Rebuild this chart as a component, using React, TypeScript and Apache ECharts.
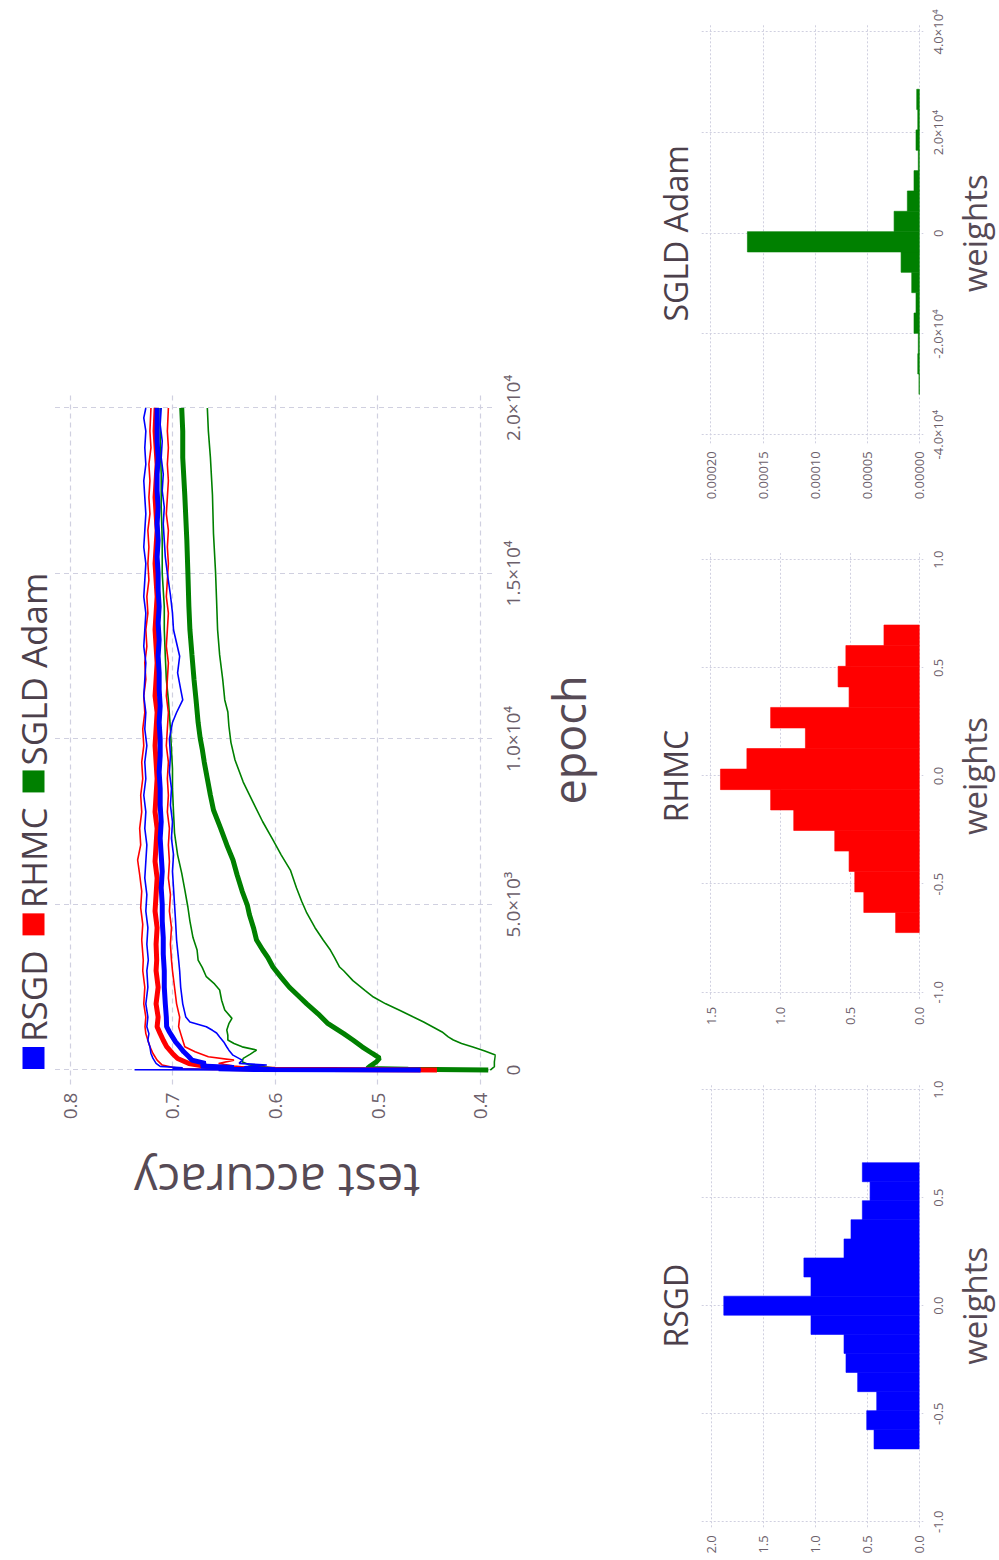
import React, { useEffect, useRef } from "react";
import * as echarts from "echarts";

// ---------------- data ----------------
const METHODS = ["RSGD", "RHMC", "SGLD Adam"];
const EPOCH_TICKS = [0, 5000, 10000, 15000, 20000];
const ACC_TICKS = [0.4, 0.5, 0.6, 0.7, 0.8];
const WEIGHT_TICKS = [-1, -0.5, 0, 0.5, 1];
const RSGD_DENSITY_TICKS = [0, 0.5, 1, 1.5, 2];
const RHMC_DENSITY_TICKS = [0, 0.5, 1, 1.5];
const SGLD_WEIGHT_TICKS = [-40000, -20000, 0, 20000, 40000];
const SGLD_DENSITY_TICKS = [0, 0.00005, 0.0001, 0.00015, 0.0002];

// test accuracy curves [epoch, accuracy]
const RSGD_MEAN = [[0,0.458],[15,0.62],[40,0.655],[80,0.64],[120,0.672],[200,0.668],[300,0.681],[400,0.684],[550,0.689],[705,0.693],[850,0.697],[1000,0.7],[1150,0.703],[1309,0.7057],[1600,0.706],[2000,0.707],[2500,0.708],[3000,0.708],[3500,0.709],[4000,0.709],[4500,0.71],[5000,0.71],[5500,0.711],[6000,0.71],[6500,0.711],[7000,0.712],[7500,0.711],[8000,0.712],[8500,0.712],[9000,0.713],[9500,0.712],[10000,0.712],[10500,0.713],[11000,0.712],[11500,0.713],[12000,0.713],[12500,0.714],[13000,0.713],[13500,0.714],[14000,0.713],[14500,0.714],[15000,0.714],[15500,0.715],[16000,0.714],[16500,0.715],[17000,0.714],[17500,0.715],[18000,0.715],[18500,0.714],[19000,0.715],[19500,0.715],[20000,0.715]];
const RSGD_UPPER = [[0,0.458],[8,0.737],[20,0.66],[40,0.7],[70,0.69],[110,0.712],[200,0.716],[350,0.719],[500,0.721],[705,0.722],[900,0.724],[1100,0.723],[1309,0.725],[1600,0.724],[2000,0.726],[2500,0.724],[3000,0.725],[3323,0.7236],[3800,0.725],[4300,0.724],[4800,0.726],[5300,0.725],[5800,0.727],[6300,0.726],[6800,0.725],[7300,0.727],[7800,0.726],[8300,0.728],[8800,0.726],[9300,0.727],[9800,0.725],[10300,0.727],[10800,0.726],[11300,0.728],[11800,0.727],[12300,0.726],[12800,0.728],[13300,0.727],[13800,0.726],[14300,0.728],[14800,0.727],[15300,0.726],[15800,0.728],[16300,0.727],[16800,0.726],[17300,0.727],[17800,0.728],[18300,0.726],[18800,0.727],[19300,0.726],[19700,0.728],[20000,0.726]];
const RSGD_LOWER = [[0,0.458],[10,0.55],[25,0.62],[60,0.6],[100,0.63],[150,0.608],[200,0.635],[300,0.632],[450,0.641],[600,0.645],[695,0.647],[850,0.65],[1000,0.654],[1118,0.657],[1200,0.661],[1309,0.667],[1450,0.683],[1600,0.687],[2000,0.69],[2500,0.692],[3000,0.693],[3323,0.694],[3927,0.696],[4500,0.697],[5000,0.698],[5500,0.699],[6000,0.7],[6500,0.699],[7000,0.701],[7500,0.7],[8000,0.702],[8500,0.701],[9000,0.703],[9500,0.702],[10000,0.703],[10500,0.7],[10800,0.696],[11180,0.69],[11500,0.692],[12000,0.695],[12500,0.693],[12900,0.696],[13300,0.699],[13800,0.7],[14350,0.702],[15000,0.705],[15500,0.707],[16000,0.708],[16500,0.709],[17000,0.708],[17500,0.71],[18000,0.709],[18500,0.711],[19000,0.71],[19500,0.712],[20000,0.711]];

const RHMC_MEAN = [[0,0.442],[20,0.6],[50,0.645],[100,0.665],[200,0.684],[350,0.695],[500,0.7],[705,0.7057],[900,0.709],[1100,0.712],[1309,0.715],[1600,0.714],[2000,0.716],[2500,0.714],[3000,0.716],[3323,0.7154],[3800,0.716],[4300,0.715],[4800,0.717],[5300,0.716],[5800,0.715],[6300,0.717],[6800,0.716],[7300,0.715],[7800,0.717],[8300,0.716],[8800,0.715],[9300,0.716],[9800,0.717],[10300,0.716],[10800,0.715],[11300,0.717],[11800,0.716],[12300,0.715],[12800,0.716],[13300,0.717],[13800,0.716],[14300,0.715],[14800,0.716],[15300,0.717],[15800,0.716],[16300,0.715],[16800,0.716],[17300,0.717],[17800,0.716],[18300,0.715],[18800,0.716],[19300,0.717],[20000,0.716]];
const RHMC_UPPER = [[0,0.442],[15,0.66],[40,0.69],[80,0.7],[150,0.71],[300,0.715],[500,0.719],[705,0.722],[900,0.724],[1100,0.726],[1309,0.7268],[1600,0.726],[2000,0.728],[2500,0.727],[3000,0.729],[3323,0.7285],[3927,0.73],[4400,0.729],[4900,0.731],[5400,0.73],[5900,0.732],[6345,0.734],[6800,0.731],[7300,0.732],[7800,0.73],[8300,0.731],[8800,0.729],[9300,0.73],[9800,0.728],[10300,0.729],[10800,0.727],[11300,0.728],[11800,0.726],[12300,0.727],[12800,0.725],[13300,0.726],[13800,0.724],[14300,0.725],[14800,0.723],[15300,0.724],[15800,0.723],[16300,0.724],[16800,0.722],[17300,0.723],[17800,0.722],[18300,0.723],[18800,0.721],[19300,0.722],[20000,0.721]];
const RHMC_LOWER = [[0,0.442],[20,0.58],[60,0.62],[120,0.64],[200,0.655],[300,0.64],[400,0.665],[550,0.678],[705,0.688],[900,0.69],[1100,0.692],[1309,0.694],[1600,0.693],[2000,0.696],[2500,0.698],[3000,0.7],[3323,0.701],[3800,0.702],[4300,0.701],[4800,0.703],[5300,0.702],[5800,0.704],[6300,0.703],[6800,0.704],[7300,0.703],[7800,0.705],[8300,0.704],[8800,0.705],[9300,0.704],[9800,0.706],[10300,0.705],[10800,0.704],[11300,0.706],[11800,0.705],[12300,0.704],[12800,0.706],[13300,0.705],[13800,0.704],[14300,0.706],[14800,0.705],[15300,0.704],[15800,0.705],[16300,0.704],[16800,0.706],[17300,0.705],[17800,0.704],[18300,0.705],[18800,0.704],[19300,0.705],[20000,0.704]];

const SGLD_MEAN = [[0,0.392],[20,0.47],[50,0.51],[120,0.507],[250,0.501],[362,0.498],[500,0.505],[700,0.515],[906,0.524],[1100,0.533],[1420,0.549],[1700,0.558],[2000,0.569],[2205,0.576],[2500,0.586],[2800,0.594],[3112,0.602],[3400,0.607],[3625,0.612],[3927,0.618],[4300,0.621],[4700,0.625],[4985,0.627],[5400,0.632],[5900,0.637],[6345,0.641],[6800,0.647],[7300,0.653],[7855,0.66],[8300,0.663],[8800,0.666],[9300,0.669],[9700,0.671],[10030,0.673],[10500,0.675],[11180,0.677],[11800,0.679],[12540,0.681],[13300,0.683],[14000,0.684],[15045,0.685],[16000,0.686],[17370,0.688],[18500,0.69],[19300,0.69],[20000,0.691]];
const SGLD_LOWER = [[0,0.39],[100,0.386],[250,0.386],[453,0.385],[580,0.396],[695,0.407],[800,0.418],[906,0.426],[1000,0.431],[1150,0.437],[1300,0.446],[1450,0.455],[1600,0.465],[1800,0.478],[2000,0.492],[2205,0.504],[2400,0.512],[2700,0.524],[3000,0.533],[3112,0.537],[3400,0.542],[3625,0.546],[3927,0.553],[4300,0.561],[4745,0.569],[5100,0.574],[5500,0.579],[6040,0.585],[6500,0.594],[6950,0.602],[7500,0.612],[8065,0.621],[8700,0.631],[9365,0.639],[9900,0.643],[10400,0.645],[10815,0.646],[11180,0.649],[11800,0.651],[12540,0.654],[13300,0.656],[14200,0.657],[15045,0.658],[16200,0.66],[17370,0.661],[18500,0.663],[19300,0.665],[20000,0.666]];
const SGLD_UPPER = [[0,0.392],[20,0.55],[60,0.6],[150,0.625],[250,0.632],[352,0.631],[480,0.624],[604,0.618],[700,0.632],[800,0.64],[906,0.646],[1050,0.646],[1208,0.647],[1400,0.645],[1560,0.642],[1813,0.649],[2100,0.652],[2417,0.654],[2600,0.659],[2819,0.667],[3100,0.671],[3323,0.675],[3625,0.676],[4000,0.68],[4500,0.683],[4925,0.685],[5450,0.688],[5950,0.691],[6500,0.695],[7160,0.698],[7800,0.699],[8500,0.7],[9100,0.7],[9667,0.701],[10300,0.702],[11180,0.704],[11800,0.706],[12500,0.707],[13300,0.708],[14000,0.708],[15000,0.71],[16000,0.71],[17000,0.711],[18000,0.711],[19000,0.712],[20000,0.712]];

// weight histograms: bin edges and densities
const RSGD_EDGES = [-0.663, -0.574, -0.486, -0.398, -0.309, -0.221, -0.133, -0.044, 0.044, 0.133, 0.221, 0.309, 0.398, 0.486, 0.574, 0.662];
const RSGD_DENSITY = [0.433, 0.503, 0.407, 0.59, 0.702, 0.721, 1.038, 1.875, 1.038, 1.106, 0.721, 0.654, 0.545, 0.471, 0.545];
const RHMC_EDGES = [-0.724, -0.631, -0.536, -0.441, -0.347, -0.252, -0.157, -0.063, 0.032, 0.127, 0.222, 0.317, 0.412, 0.507, 0.603, 0.698];
const RHMC_DENSITY = [0.17, 0.399, 0.464, 0.505, 0.608, 0.903, 1.069, 1.43, 1.24, 0.819, 1.069, 0.505, 0.584, 0.528, 0.254];
const SGLD_EDGES = [-31980, -27940, -23900, -19860, -15820, -11780, -7740, -3700, 340, 4380, 8420, 12460, 16500, 20540, 24580, 28620];
const SGLD_DENSITY = [0.0000003, 0.0000015, 0.000001, 0.0000051, 0.0000032, 0.0000073, 0.0000175, 0.0001648, 0.0000242, 0.0000115, 0.0000051, 0.000001, 0.0000032, 0.0000015, 0.0000025];

// ---------------- styles ----------------
const FONT = "'Open Sans', 'Noto Sans', sans-serif";
const TICK_COLOR = "#6C606B";
const TITLE_COLOR = "#564A55";
const KEY_COLOR = "#4C404B";
const GRID_COLOR = "#D0D0E0";
const COLORS: Record<string, string> = { RSGD: "#0000ff", RHMC: "#ff0000", "SGLD Adam": "#008000" };

const SUP: Record<string, string> = { "3": "\u00b3", "4": "\u2074" };
function sci(v: number): string {
  if (v === 0) return "0";
  const e = Math.floor(Math.log10(Math.abs(v)) + 1e-9);
  const m = v / Math.pow(10, e);
  return m.toFixed(1) + "\u00d710" + (SUP[String(e)] || String(e));
}

function valueAxis(gridIndex: number, min: number, max: number, ticks: number[], fmt: (v: number) => string, fontSize: number, dash: number[], width: number) {
  return {
    type: "value",
    gridIndex,
    min,
    max,
    axisLine: { show: false },
    axisTick: { show: false, customValues: ticks },
    axisLabel: { customValues: ticks, formatter: fmt, color: TICK_COLOR, fontSize, fontFamily: FONT, margin: 8 },
    splitLine: { show: true, lineStyle: { color: GRID_COLOR, type: dash, width } },
  };
}

function lineSeries(name: string, data: number[][], width: number) {
  return {
    type: "line",
    name,
    xAxisIndex: 0,
    yAxisIndex: 0,
    data,
    showSymbol: false,
    symbol: "none",
    silent: true,
    lineStyle: { color: COLORS[name], width },
    itemStyle: { color: COLORS[name] },
  };
}

function histSeries(idx: number, edges: number[], dens: number[], color: string) {
  return {
    type: "custom",
    name: "hist" + idx,
    xAxisIndex: idx,
    yAxisIndex: idx,
    silent: true,
    encode: { x: [0, 1], y: 2 },
    data: dens.map((d, i) => [edges[i], edges[i + 1], d]),
    renderItem: (_p: any, api: any) => {
      const a = api.coord([api.value(0), api.value(2)]);
      const b = api.coord([api.value(1), 0]);
      return {
        type: "rect",
        shape: { x: a[0], y: a[1], width: b[0] - a[0], height: b[1] - a[1] },
        style: { fill: color, stroke: color, lineWidth: 0.6 },
      };
    },
  };
}

function text(t: string, x: number, y: number, size: number, color: string, rotation = 0) {
  return {
    type: "text",
    x,
    y,
    rotation,
    silent: true,
    style: { text: t, fontSize: size, fill: color, fontFamily: FONT, align: "center", verticalAlign: "middle" },
  };
}

const f1 = (v: number) => v.toFixed(1);
const f5 = (v: number) => v.toFixed(5);

export default function App() {
  const ref = useRef<HTMLDivElement>(null);
  useEffect(() => {
    const chart = echarts.init(ref.current!, null, { renderer: "svg" });
    const option: any = {
      animation: false,
      backgroundColor: "#ffffff",
      legend: {
        data: METHODS.map((m) => ({ name: m, itemStyle: { color: COLORS[m] } })),
        icon: "rect",
        orient: "horizontal",
        left: 491,
        top: 16,
        padding: 0,
        itemWidth: 22,
        itemHeight: 22,
        itemGap: 15,
        selectedMode: false,
        textStyle: { fontSize: 35, color: KEY_COLOR, fontFamily: FONT, lineHeight: 22 },
      },
      grid: [
        { left: 475.4, top: 55, width: 691.2, height: 440 },
        { left: 32.7, top: 701.7, width: 443.2, height: 221.6 },
        { left: 561.2, top: 701.7, width: 445.6, height: 221.6 },
        { left: 1116.7, top: 701.7, width: 419.9, height: 221.6 },
      ],
      xAxis: [
        valueAxis(0, -440, 20440, EPOCH_TICKS, sci, 19, [5, 4], 1.2),
        valueAxis(1, -1.026, 1.026, WEIGHT_TICKS, f1, 13, [2, 2], 1),
        valueAxis(2, -1.03, 1.03, WEIGHT_TICKS, f1, 13, [2, 2], 1),
        valueAxis(3, -41700, 41700, SGLD_WEIGHT_TICKS, sci, 13, [2, 2], 1),
      ],
      yAxis: [
        valueAxis(0, 0.3854, 0.8146, ACC_TICKS, f1, 19, [5, 4], 1.2),
        valueAxis(1, -0.04, 2.087, RSGD_DENSITY_TICKS, f1, 13, [2, 2], 1),
        valueAxis(2, -0.029, 1.565, RHMC_DENSITY_TICKS, f1, 13, [2, 2], 1),
        valueAxis(3, -0.0000038, 0.0002086, SGLD_DENSITY_TICKS, f5, 13, [2, 2], 1),
      ],
      series: [
        lineSeries("SGLD Adam", SGLD_LOWER, 1.6),
        lineSeries("SGLD Adam", SGLD_UPPER, 1.6),
        lineSeries("SGLD Adam", SGLD_MEAN, 5),
        lineSeries("RHMC", RHMC_LOWER, 1.6),
        lineSeries("RHMC", RHMC_UPPER, 1.6),
        lineSeries("RHMC", RHMC_MEAN, 5),
        lineSeries("RSGD", RSGD_LOWER, 1.6),
        lineSeries("RSGD", RSGD_UPPER, 1.6),
        lineSeries("RSGD", RSGD_MEAN, 5),
        histSeries(1, RSGD_EDGES, RSGD_DENSITY, COLORS["RSGD"]),
        histSeries(2, RHMC_EDGES, RHMC_DENSITY, COLORS["RHMC"]),
        histSeries(3, SGLD_EDGES, SGLD_DENSITY, COLORS["SGLD Adam"]),
      ],
      graphic: [
        text("test accuracy", 378, 277, 47, TITLE_COLOR, Math.PI / 2),
        text("epoch", 820, 568, 45, TITLE_COLOR),
        text("RSGD", 254.3, 675, 32, KEY_COLOR),
        text("RHMC", 784, 675, 32, KEY_COLOR),
        text("SGLD Adam", 1326.7, 675, 32, KEY_COLOR),
        text("weights", 254.3, 974, 33, TITLE_COLOR),
        text("weights", 784, 974, 33, TITLE_COLOR),
        text("weights", 1326.7, 974, 33, TITLE_COLOR),
      ],
    };
    chart.setOption(option);
    return () => chart.dispose();
  }, []);
  return (
    <div style={{ position: "fixed", left: 0, top: 0, width: 999, height: 1560, overflow: "hidden", background: "#ffffff" }}>
      <div
        ref={ref}
        style={{
          position: "absolute",
          left: 0,
          top: 0,
          width: 1560,
          height: 999,
          transformOrigin: "0 0",
          transform: "translateY(1560px) rotate(-90deg)",
        }}
      />
    </div>
  );
}
